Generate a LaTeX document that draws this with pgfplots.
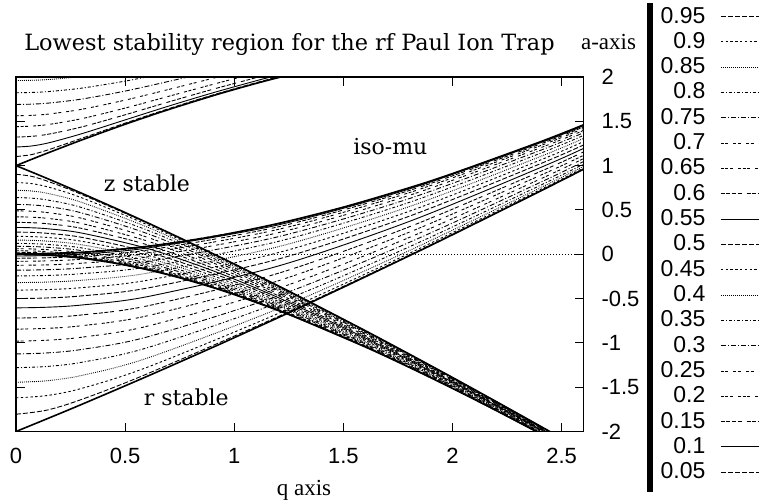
\documentclass[border=0pt]{standalone}
\usepackage{pgfplots}
\pgfplotsset{compat=1.18}
\usepackage{pgfplotstable}
\usepackage{fontspec}
\setmainfont{Liberation Serif}
\newfontfamily\titlefont{DejaVu Serif}
\newfontfamily\tickfont{Liberation Sans}

% z-direction iso-beta curves, lowest region (beta = 0.05 ... 0.95)
\pgfplotstableread{
q b05 b10 b15 b20 b25 b30 b35 b40 b45 b50 b55 b60 b65 b70 b75 b80 b85 b90 b95
0 0.0025 0.01 0.0225 0.04 0.0625 0.09 0.1225 0.16 0.2025 0.25 0.3025 0.36 0.4225 0.49 0.5625 0.64 0.7225 0.81 0.9025
0.07 0.0000 0.0075 0.0200 0.0374 0.0599 0.0873 0.1197 0.1571 0.1994 0.2467 0.2990 0.3562 0.4183 0.4852 0.5569 0.6332 0.7138 0.7975 0.8798
0.15 -0.0088 -0.0014 0.0110 0.0283 0.0505 0.0776 0.1097 0.1466 0.1884 0.2350 0.2865 0.3426 0.4033 0.4683 0.5373 0.6097 0.6841 0.7571 0.8194
0.3 -0.0422 -0.0350 -0.0231 -0.0064 0.0151 0.0412 0.0719 0.1073 0.1471 0.1913 0.2396 0.2919 0.3476 0.4063 0.4670 0.5280 0.5866 0.6382 0.6753
0.6 -0.1713 -0.1650 -0.1545 -0.1399 -0.1212 -0.0986 -0.0722 -0.0421 -0.0087 0.0278 0.0669 0.1080 0.1504 0.1931 0.2348 0.2738 0.3079 0.3349 0.3523
0.9 -0.3729 -0.3676 -0.3589 -0.3469 -0.3316 -0.3132 -0.2920 -0.2681 -0.2419 -0.2138 -0.1843 -0.1540 -0.1235 -0.0939 -0.0660 -0.0409 -0.0198 -0.0038 0.0063
1.2 -0.6320 -0.6279 -0.6210 -0.6115 -0.5994 -0.5851 -0.5686 -0.5503 -0.5304 -0.5094 -0.4876 -0.4657 -0.4440 -0.4233 -0.4043 -0.3875 -0.3736 -0.3631 -0.3567
1.6 -1.0449 -1.0418 -1.0368 -1.0299 -1.0212 -1.0110 -0.9995 -0.9868 -0.9732 -0.9591 -0.9447 -0.9305 -0.9167 -0.9037 -0.8919 -0.8817 -0.8734 -0.8672 -0.8633
2.0 -1.5132 -1.5110 -1.5073 -1.5022 -1.4959 -1.4886 -1.4803 -1.4714 -1.4620 -1.4524 -1.4427 -1.4333 -1.4244 -1.4161 -1.4088 -1.4025 -1.3974 -1.3937 -1.3915
2.4 -2.0215 -2.0199 -2.0174 -2.0139 -2.0096 -2.0045 -1.9988 -1.9926 -1.9861 -1.9795 -1.9729 -1.9664 -1.9602 -1.9545 -1.9494 -1.9451 -1.9416 -1.9391 -1.9375
2.5 -2.1535 -2.1521 -2.1497 -2.1466 -2.1426 -2.1379 -2.1327 -2.1271 -2.1211 -2.1150 -2.1089 -2.1029 -2.0973 -2.0921 -2.0874 -2.0835 -2.0803 -2.0779 -2.0765
}\zdata

% r-direction iso-beta curves
\pgfplotstableread{
q b05 b10 b15 b20 b25 b30 b35 b40 b45 b50 b55 b60 b65 b70 b75 b80 b85 b90 b95
0 -0.005 -0.02 -0.045 -0.08 -0.125 -0.18 -0.245 -0.32 -0.405 -0.5 -0.605 -0.72 -0.845 -0.98 -1.125 -1.28 -1.445 -1.62 -1.805
0.14 -0.0001 -0.0151 -0.0400 -0.0749 -0.1198 -0.1746 -0.2394 -0.3142 -0.3989 -0.4935 -0.5980 -0.7123 -0.8365 -0.9704 -1.1138 -1.2664 -1.4275 -1.5949 -1.7596
0.3 0.0175 0.0027 -0.0220 -0.0566 -0.1010 -0.1553 -0.2194 -0.2932 -0.3768 -0.4700 -0.5730 -0.6852 -0.8066 -0.9365 -1.0746 -1.2194 -1.3682 -1.5142 -1.6388
0.6 0.0844 0.0700 0.0461 0.0127 -0.0301 -0.0823 -0.1439 -0.2145 -0.2942 -0.3825 -0.4792 -0.5837 -0.6953 -0.8127 -0.9340 -1.0560 -1.1732 -1.2764 -1.3506
1.2 0.3427 0.3300 0.3090 0.2798 0.2424 0.1972 0.1443 0.0842 0.0174 -0.0556 -0.1337 -0.2160 -0.3008 -0.3863 -0.4696 -0.5475 -0.6158 -0.6697 -0.7045
1.8 0.7458 0.7351 0.7177 0.6937 0.6632 0.6265 0.5839 0.5361 0.4837 0.4275 0.3686 0.3079 0.2471 0.1878 0.1320 0.0819 0.0397 0.0076 -0.0126
2.4 1.2640 1.2558 1.2419 1.2229 1.1988 1.1701 1.1372 1.1005 1.0608 1.0188 0.9753 0.9313 0.8880 0.8467 0.8085 0.7749 0.7471 0.7263 0.7133
2.6 1.4578 1.4502 1.4372 1.4196 1.3974 1.3710 1.3408 1.3072 1.2710 1.2330 1.1938 1.1544 1.1160 1.0792 1.0456 1.0160 0.9916 0.9734 0.9622
}\rdata

% z-direction, second region (beta = 1.05 ... 1.40)
\pgfplotstableread{
q u05 u10 u15 u20 u25 u30 u35 u40
0 1.1025 1.21 1.3225 1.44 1.5625 1.69 1.8225 1.96
0.07 1.1240 1.2213 1.3301 1.4456 1.5669 1.6936 1.8255 1.9626
0.15 1.1800 1.2573 1.3553 1.4646 1.5820 1.7060 1.8360 1.9717
0.3 1.3071 1.3592 1.4357 1.5293 1.6352 1.7506 1.8741 2.0045
0.5 1.4793 1.5159 1.5737 1.6492 1.7391 1.8413 1.9537 2.06
0.7 1.6432 1.6722 1.7193 1.7825 1.8601 1.9506 2.05 2.14
0.9 1.7956 1.8202 1.8605 1.9156 1.9843 2.065 2.15 2.23
1.1 1.9355 1.9573 1.9930 2.045 2.11 2.18 2.25 2.32
1.2 2.0005 2.0209 2.0700 2.11 2.17 2.24 2.30 2.37
1.3 2.065 2.085 2.13 2.17 2.23 2.30 2.36 2.43
}\udata

\tikzset{
 p1/.style={dash pattern=on 2.5pt off 1pt},
 p2/.style={solid},
 p3/.style={dash pattern=on 2pt off 0.8pt on 2pt off 0.8pt on 2pt off 0.8pt on 2pt off 2.5pt},
 p4/.style={dash pattern=on 1.5pt off 0.8pt on 1.5pt off 0.8pt on 1.5pt off 2.5pt},
 p5/.style={dash pattern=on 1.5pt off 0.8pt on 1.5pt off 2.5pt},
 p6/.style={dash pattern=on 2.5pt off 1pt on 0.5pt off 1pt},
 p7/.style={dash pattern=on 1.5pt off 1pt on 0.5pt off 1pt},
 p8/.style={dash pattern=on 0.4pt off 0.6pt},
 p9/.style={dash pattern=on 1.2pt off 1.2pt},
}
\pgfplotsset{
 cv/.style={black, line width=0.45pt, smooth, mark=none},
 bd/.style={black, line width=0.8pt, smooth, mark=none, forget plot},
}

\begin{document}
\begin{tikzpicture}
\useasboundingbox (0,0) rectangle (379.5pt,251.5pt);
\begin{axis}[
  at={(8pt,35.75pt)}, anchor=south west,
  scale only axis, width=283.75pt, height=177.25pt,
  xmin=0, xmax=2.6, ymin=-2, ymax=2,
  axis line style={line width=0.9pt},
  xtick={0,0.5,1,1.5,2,2.5}, xticklabels={0,0.5,1,1.5,2,2.5},
  ytick={-2,-1.5,-1,-0.5,0,0.5,1,1.5,2},
  yticklabels={-2,-1.5,-1,-0.5,0,0.5,1,1.5,2},
  yticklabel pos=right,
  xtick pos=both, ytick pos=both,
  tick align=inside, major tick length=4.5pt,
  tick style={black, line width=0.5pt},
  xticklabel style={font=\tickfont\fontsize{11}{12}\selectfont, yshift=-5pt},
  yticklabel style={font=\tickfont\fontsize{11}{12}\selectfont, anchor=west, xshift=5.5pt},
  legend plot pos=right,
  legend cell align=right,
  legend image code/.code={\draw[#1] (0pt,0pt) -- (25pt,0pt);},
  legend style={at={(1.1352,1.2076)}, anchor=north west, draw=none, fill=none,
     inner sep=0pt, row sep=0pt, column sep=7.5pt,
     nodes={inner sep=0pt, minimum height=12.66pt},
     font=\tickfont\fontsize{11.5}{12}\selectfont},
]
\addplot[cv,p1] table[x=q,y=b95]{\zdata}; \addlegendentry{0.95}
\addplot[cv,p1,forget plot] table[x=q,y=b95]{\rdata};
\addplot[cv,p9] table[x=q,y=b90]{\zdata}; \addlegendentry{0.9}
\addplot[cv,p9,forget plot] table[x=q,y=b90]{\rdata};
\addplot[cv,p8] table[x=q,y=b85]{\zdata}; \addlegendentry{0.85}
\addplot[cv,p8,forget plot] table[x=q,y=b85]{\rdata};
\addplot[cv,p7] table[x=q,y=b80]{\zdata}; \addlegendentry{0.8}
\addplot[cv,p7,forget plot] table[x=q,y=b80]{\rdata};
\addplot[cv,p6] table[x=q,y=b75]{\zdata}; \addlegendentry{0.75}
\addplot[cv,p6,forget plot] table[x=q,y=b75]{\rdata};
\addplot[cv,p5] table[x=q,y=b70]{\zdata}; \addlegendentry{0.7}
\addplot[cv,p5,forget plot] table[x=q,y=b70]{\rdata};
\addplot[cv,p4] table[x=q,y=b65]{\zdata}; \addlegendentry{0.65}
\addplot[cv,p4,forget plot] table[x=q,y=b65]{\rdata};
\addplot[cv,p3] table[x=q,y=b60]{\zdata}; \addlegendentry{0.6}
\addplot[cv,p3,forget plot] table[x=q,y=b60]{\rdata};
\addplot[cv,p2] table[x=q,y=b55]{\zdata}; \addlegendentry{0.55}
\addplot[cv,p2,forget plot] table[x=q,y=b55]{\rdata};
\addplot[cv,p1] table[x=q,y=b50]{\zdata}; \addlegendentry{0.5}
\addplot[cv,p1,forget plot] table[x=q,y=b50]{\rdata};
\addplot[cv,p9] table[x=q,y=b45]{\zdata}; \addlegendentry{0.45}
\addplot[cv,p9,forget plot] table[x=q,y=b45]{\rdata};
\addplot[cv,p8] table[x=q,y=b40]{\zdata}; \addlegendentry{0.4}
\addplot[cv,p8,forget plot] table[x=q,y=b40]{\rdata};
\addplot[cv,p8,forget plot] table[x=q,y=u40]{\udata};
\addplot[cv,p7] table[x=q,y=b35]{\zdata}; \addlegendentry{0.35}
\addplot[cv,p7,forget plot] table[x=q,y=b35]{\rdata};
\addplot[cv,p7,forget plot] table[x=q,y=u35]{\udata};
\addplot[cv,p6] table[x=q,y=b30]{\zdata}; \addlegendentry{0.3}
\addplot[cv,p6,forget plot] table[x=q,y=b30]{\rdata};
\addplot[cv,p6,forget plot] table[x=q,y=u30]{\udata};
\addplot[cv,p5] table[x=q,y=b25]{\zdata}; \addlegendentry{0.25}
\addplot[cv,p5,forget plot] table[x=q,y=b25]{\rdata};
\addplot[cv,p5,forget plot] table[x=q,y=u25]{\udata};
\addplot[cv,p4] table[x=q,y=b20]{\zdata}; \addlegendentry{0.2}
\addplot[cv,p4,forget plot] table[x=q,y=b20]{\rdata};
\addplot[cv,p4,forget plot] table[x=q,y=u20]{\udata};
\addplot[cv,p3] table[x=q,y=b15]{\zdata}; \addlegendentry{0.15}
\addplot[cv,p3,forget plot] table[x=q,y=b15]{\rdata};
\addplot[cv,p3,forget plot] table[x=q,y=u15]{\udata};
\addplot[cv,p2] table[x=q,y=b10]{\zdata}; \addlegendentry{0.1}
\addplot[cv,p2,forget plot] table[x=q,y=b10]{\rdata};
\addplot[cv,p2,forget plot] table[x=q,y=u10]{\udata};
\addplot[cv,p1] table[x=q,y=b05]{\zdata}; \addlegendentry{0.05}
\addplot[cv,p1,forget plot] table[x=q,y=b05]{\rdata};
\addplot[cv,p1,forget plot] table[x=q,y=u05]{\udata};
% stability boundaries
\addplot[bd] coordinates {(0,1) (0.07,0.9294) (0.15,0.8475) (0.3,0.6892) (0.45,0.5261) (0.6,0.3583) (0.75,0.1859) (0.9,0.0096) (1.0,-0.1102) (1.2,-0.3549) (1.3,-0.4795) (1.6,-0.8622) (1.8,-1.1242) (2.0,-1.3907) (2.2,-1.6620) (2.4,-1.9370) (2.5,-2.0760)};
\addplot[bd] coordinates {(0,0) (0.15,-0.0112) (0.3,-0.0446) (0.45,-0.0991) (0.6,-0.1734) (0.75,-0.2658) (0.9,-0.3746) (1.0,-0.4551) (1.2,-0.6334) (1.3,-0.7302) (1.6,-1.0459) (1.8,-1.2741) (2.0,-1.5140) (2.2,-1.7634) (2.4,-2.0220) (2.5,-2.1540)};
\addplot[bd] coordinates {(0,1) (0.07,1.0694) (0.15,1.1471) (0.3,1.2883) (0.5,1.4668) (0.7,1.6333) (0.9,1.7872) (1.0,1.8591) (1.1,1.9277) (1.2,1.9920) (1.3,2.05)};
\addplot[bd] coordinates {(0,-2) (0.14,-1.8588) (0.3,-1.6950) (0.6,-1.3784) (0.9,-1.0522) (1.0,-0.9413) (1.2,-0.7166) (1.5,-0.3718) (1.8,-0.0192) (2.0,0.2204) (2.4,0.7098) (2.6,0.9590)};
\addplot[bd] coordinates {(0,0) (0.3,0.0224) (0.6,0.0891) (0.9,0.1982) (1.2,0.3468) (1.5,0.5316) (1.8,0.7492) (2.0,0.9102) (2.4,1.2668) (2.6,1.4604)};
% zero axis
\addplot[black, line width=0.4pt, dash pattern=on 0.5pt off 1pt, forget plot] coordinates {(0,0) (2.6,0)};
\node[font=\titlefont\fontsize{11}{13}\selectfont] at (axis cs:0.60,0.80) {z stable};
\node[font=\titlefont\fontsize{11}{13}\selectfont] at (axis cs:0.78,-1.61) {r stable};
\node[font=\titlefont\fontsize{11}{13}\selectfont] at (axis cs:1.715,1.22) {iso-mu};
\end{axis}
\node[anchor=base, font=\titlefont\fontsize{11.2}{13}\selectfont] at (144.75pt,226.15pt) {Lowest stability region for the rf Paul Ion Trap};
\node[anchor=base, font=\fontsize{11.5}{13}\selectfont] at (304.25pt,226.5pt) {a-axis};
\node[anchor=base, font=\fontsize{11.5}{13}\selectfont] at (152pt,4pt) {q axis};
\fill[black] (323.5pt,5.5pt) rectangle (326.5pt,250pt);
\end{tikzpicture}
\end{document}
